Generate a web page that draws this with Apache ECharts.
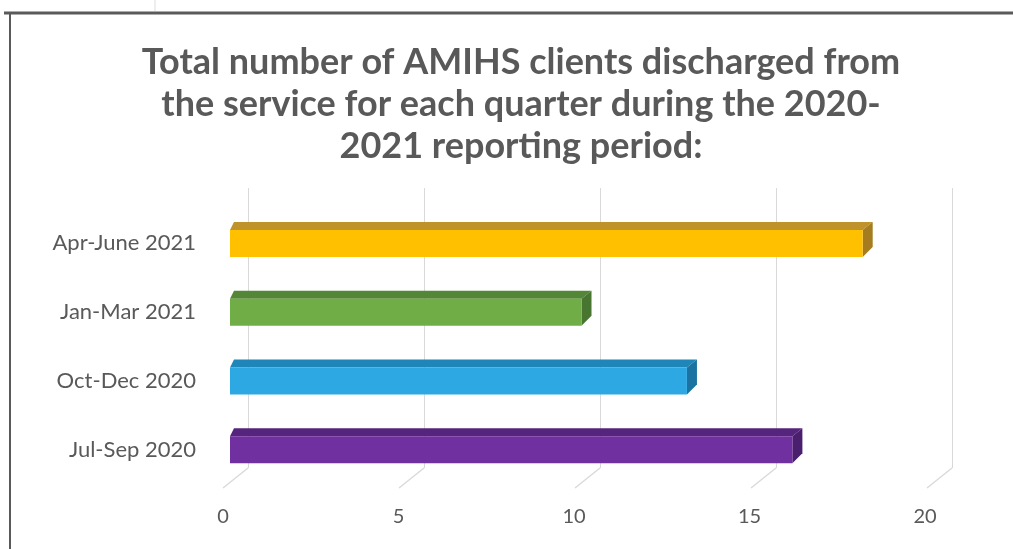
<!DOCTYPE html>
<html>
<head>
<meta charset="utf-8">
<script src="https://cdn.jsdelivr.net/npm/echarts@6/dist/echarts.min.js"></script>
<style>
html,body{margin:0;padding:0;background:#fff;}
#chart{width:1013px;height:549px;}
</style>
</head>
<body>
<div id="chart"></div>
<script>
// ---- data ----
var titleText = 'Total number of AMIHS clients discharged from\nthe service for each quarter during the 2020-\n2021 reporting period:';
var categories = ['Jul-Sep 2020', 'Oct-Dec 2020', 'Jan-Mar 2021', 'Apr-June 2021'];
var values = [16, 13, 10, 18];
var xTicks = [0, 5, 10, 15, 20];

// ---- styles ----
var frontColors = ['#7030A0', '#2EA8E2', '#70AD47', '#FFC000'];
var topColors   = ['#55247d', '#1e86b8', '#538636', '#c0922a'];
var sideColors  = ['#4a1f6d', '#1a73a0', '#487530', '#a57d1f'];
var textColor = '#595959';
var FONT = 'Lato, "Open Sans", sans-serif';

var chart = echarts.init(document.getElementById('chart'), null, {renderer: 'canvas'});

var barData = values.map(function (v, i) { return [v, i]; });
var floorData = xTicks.map(function (t) { return [t]; });

var DX = 10, DY = 8, BAR_H = 27;

var option = {
  animation: false,
  backgroundColor: '#ffffff',
  title: {
    text: titleText,
    left: 516,
    textAlign: 'center',
    top: 36,
    textStyle: {
      fontFamily: FONT,
      fontWeight: 'bold',
      fontSize: 36,
      lineHeight: 42,
      color: textColor
    }
  },
  grid: [
    // back plane (gridlines)
    {left: 248, right: 61, top: 188, bottom: 81},
    // bars plane
    {left: 230, right: 80, top: 209, bottom: 65},
    // front plane (tick labels)
    {left: 223, right: 88, top: 188, bottom: 61}
  ],
  xAxis: [
    {
      gridIndex: 0, type: 'value', min: 0, max: 20, interval: 5,
      axisLine: {show: false}, axisTick: {show: false}, axisLabel: {show: false},
      splitLine: {show: true, lineStyle: {color: '#d9d9d9', width: 1}}
    },
    {
      gridIndex: 1, type: 'value', min: 0, max: 20, interval: 5,
      axisLine: {show: false}, axisTick: {show: false}, axisLabel: {show: false},
      splitLine: {show: false}
    },
    {
      gridIndex: 2, type: 'value', min: 0, max: 20, interval: 5,
      axisLine: {show: false}, axisTick: {show: false}, splitLine: {show: false},
      axisLabel: {
        show: true, margin: 19, color: textColor, fontFamily: FONT, fontSize: 20,
        formatter: function (v) { return xTicks.indexOf(v) >= 0 ? String(v) : ''; }
      }
    }
  ],
  yAxis: [
    {gridIndex: 0, type: 'category', data: categories, show: false},
    {
      gridIndex: 1, type: 'category', data: categories,
      axisLine: {show: false}, axisTick: {show: false}, splitLine: {show: false},
      axisLabel: {margin: 34, color: textColor, fontFamily: FONT, fontSize: 22}
    },
    {gridIndex: 2, type: 'category', data: categories, show: false}
  ],
  series: [
    {
      // floor slant lines at each tick
      type: 'custom',
      xAxisIndex: 0, yAxisIndex: 0,
      data: floorData,
      silent: true,
      renderItem: function (params, api) {
        var p = api.coord([api.value(0), 0]);
        var cs = params.coordSys;
        var yb = cs.y + cs.height;
        return {
          type: 'line',
          shape: {x1: p[0], y1: yb, x2: p[0] - 25, y2: yb + 20},
          style: {stroke: '#d9d9d9', lineWidth: 1.5}
        };
      }
    },
    {
      type: 'custom',
      xAxisIndex: 1, yAxisIndex: 1,
      data: barData,
      renderItem: function (params, api) {
        var idx = api.value(1);
        var s = api.coord([0, idx]);
        var e = api.coord([api.value(0), idx]);
        var x0 = s[0], x1 = e[0];
        var yt = s[1] - BAR_H / 2, yb = s[1] + BAR_H / 2;
        return {
          type: 'group',
          children: [
            {
              type: 'polygon',
              shape: {points: [[x0, yt], [x1, yt], [x1 + DX, yt - DY], [x0 + DX * 0.4, yt - DY]]},
              style: {fill: topColors[idx]}
            },
            {
              type: 'polygon',
              shape: {points: [[x1, yt], [x1 + DX, yt - DY], [x1 + DX, yb - DY - 2], [x1, yb]]},
              style: {fill: sideColors[idx]}
            },
            {
              type: 'rect',
              shape: {x: x0, y: yt, width: x1 - x0, height: BAR_H},
              style: {fill: frontColors[idx]}
            }
          ]
        };
      }
    }
  ],
  graphic: [
    {type: 'line', shape: {x1: 4, y1: 13, x2: 1013, y2: 13}, style: {stroke: '#5a5a5a', lineWidth: 3}},
    {type: 'line', shape: {x1: 10, y1: 12, x2: 10, y2: 549}, style: {stroke: '#5a5a5a', lineWidth: 2}},
    {type: 'line', shape: {x1: 155, y1: 0, x2: 155, y2: 11}, style: {stroke: '#dddddd', lineWidth: 1}}
  ]
};

chart.setOption(option);
</script>
</body>
</html>
